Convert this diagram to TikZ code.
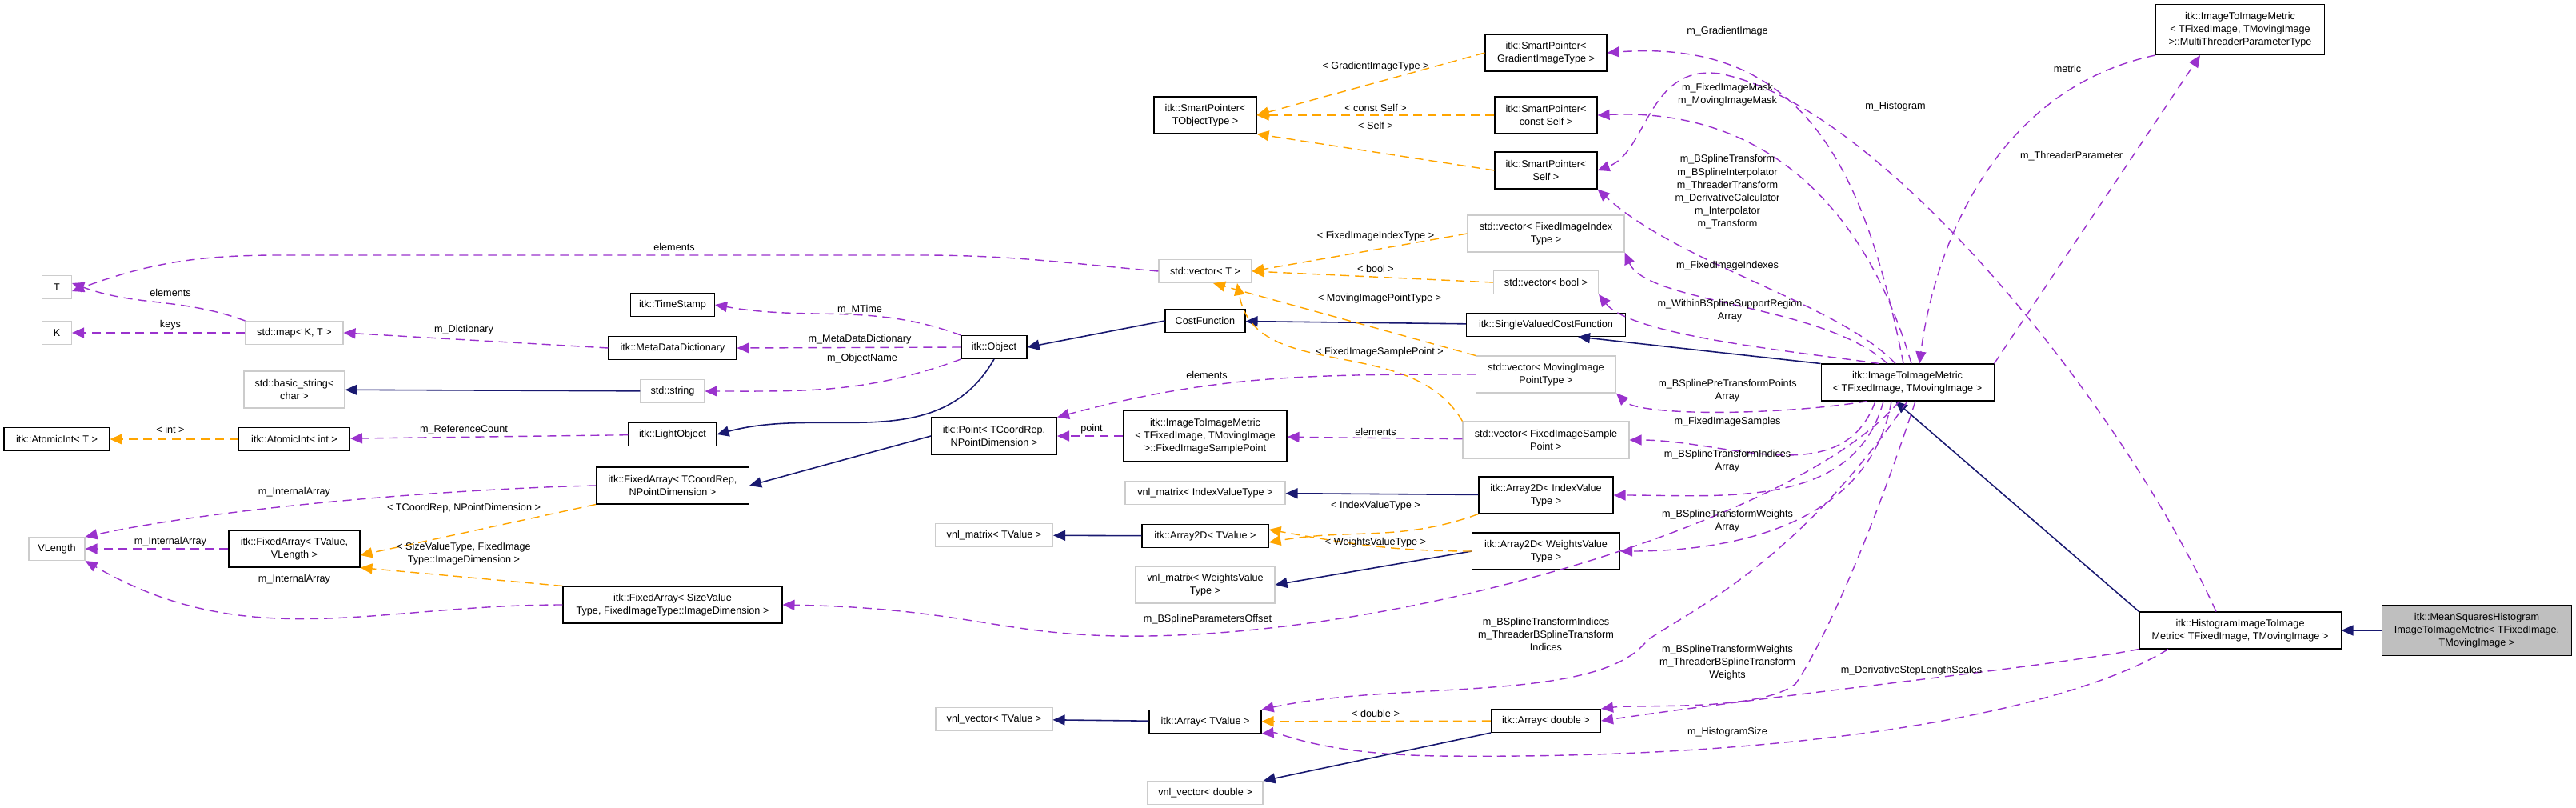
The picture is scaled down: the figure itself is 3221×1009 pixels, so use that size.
\documentclass[tikz,border=0pt]{standalone}
\usepackage{fontspec}
\setmainfont{Liberation Sans}
\usetikzlibrary{arrows.meta}
\definecolor{usecol}{HTML}{9A32CD}
\definecolor{tmplcol}{HTML}{FFA500}
\definecolor{inhcol}{HTML}{191970}
\newcommand{\fs}{\fontsize{3.6pt}{4.6pt}\selectfont}
\tikzset{
  cls/.style={draw=black, fill=white, font=\fs, align=center, inner sep=0.5pt, line width=0.3pt, minimum height=2.9mm},
  two/.style={minimum height=4.6mm},
  three/.style={minimum height=6.3mm},
  ext/.style={cls, draw=gray!40},
  use/.style={draw=usecol, line width=0.4pt, dash pattern=on 1.1mm off 0.7mm, -{Triangle[length=1.5mm,width=1.3mm]}},
  tmpl/.style={use, draw=tmplcol},
  inh/.style={draw=inhcol, line width=0.45pt, -{Triangle[length=1.5mm,width=1.3mm]}},
  lbl/.style={font=\fs, align=center, inner sep=0pt}
}
\begin{document}
\begin{tikzpicture}[x=0.1mm,y=-0.1mm]
  \useasboundingbox (0,0) rectangle (3221,1009);

  % Left columns
  \node[ext, minimum width=3.7mm] (T) at (71,359) {T};
  \node[ext, minimum width=3.7mm] (K) at (71,416) {K};
  \node[cls, minimum width=13.2mm] (atomT) at (71,549) {itk::AtomicInt< T >};
  \node[ext, minimum width=7mm] (vlen) at (71,686) {VLength};
  \node[ext, minimum width=12.2mm] (map) at (368,416) {std::map< K, T >};
  \node[ext, two, minimum width=12.6mm] (bstr) at (368,487) {std::basic\_string<\\char >};
  \node[cls, minimum width=13.9mm] (atomI) at (368,549) {itk::AtomicInt< int >};
  \node[cls, two, minimum width=16.4mm] (faVal) at (368,686) {itk::FixedArray< TValue,\\VLength >};

  \node[cls, minimum width=10.5mm] (stamp) at (841,381) {itk::TimeStamp};
  \node[cls, minimum width=16mm] (mdd) at (841,435) {itk::MetaDataDictionary};
  \node[ext, minimum width=8mm] (str) at (841,489) {std::string};
  \node[cls, minimum width=11mm] (light) at (841,543) {itk::LightObject};
  \node[cls, two, minimum width=19.1mm] (faCoord) at (841,607) {itk::FixedArray< TCoordRep,\\NPointDimension >};
  \node[cls, two, minimum width=27.4mm] (faSize) at (841,756) {itk::FixedArray< SizeValue\\Type, FixedImageType::ImageDimension >};

  \node[cls, minimum width=8.2mm] (obj) at (1243,434) {itk::Object};
  \node[cls, two, minimum width=15.7mm] (point) at (1243,545) {itk::Point< TCoordRep,\\NPointDimension >};
  \node[ext, minimum width=14.7mm] (vmT) at (1243,669) {vnl\_matrix< TValue >};
  \node[ext, minimum width=14.6mm] (vvT) at (1243,899) {vnl\_vector< TValue >};

  % Middle columns
  \node[cls, two, minimum width=12.8mm] (spObj) at (1507,144) {itk::SmartPointer<\\TObjectType >};
  \node[ext, minimum width=11.6mm] (vecT) at (1507,339) {std::vector< T >};
  \node[cls, minimum width=10mm] (cost) at (1507,401) {CostFunction};
  \node[cls, three, minimum width=20.4mm] (fisp) at (1507,545) {itk::ImageToImageMetric\\< TFixedImage, TMovingImage\\>::FixedImageSamplePoint};
  \node[ext, minimum width=20mm] (vmIdx) at (1507,616) {vnl\_matrix< IndexValueType >};
  \node[cls, minimum width=15.8mm] (a2dT) at (1507,670) {itk::Array2D< TValue >};
  \node[ext, two, minimum width=17.4mm] (vmW) at (1507,731) {vnl\_matrix< WeightsValue\\Type >};
  \node[cls, minimum width=14mm] (arrT) at (1507,902) {itk::Array< TValue >};
  \node[ext, minimum width=14.4mm] (vvD) at (1507,991) {vnl\_vector< double >};

  \node[cls, two, minimum width=15.2mm] (spGrad) at (1933,66) {itk::SmartPointer<\\GradientImageType >};
  \node[cls, two, minimum width=12.8mm] (spConst) at (1933,144) {itk::SmartPointer<\\const Self >};
  \node[cls, two, minimum width=12.8mm] (spSelf) at (1933,213) {itk::SmartPointer<\\Self >};
  \node[ext, two, minimum width=19.6mm] (vecFII) at (1933,292) {std::vector< FixedImageIndex\\Type >};
  \node[ext, minimum width=13.1mm] (vecBool) at (1933,353) {std::vector< bool >};
  \node[cls, minimum width=19.9mm] (svcf) at (1933,406) {itk::SingleValuedCostFunction};
  \node[ext, two, minimum width=17.5mm] (vecMIP) at (1933,468) {std::vector< MovingImage\\PointType >};
  \node[ext, two, minimum width=20.8mm] (vecFIS) at (1933,550) {std::vector< FixedImageSample\\Point >};
  \node[cls, two, minimum width=16.8mm] (a2dIdx) at (1933,619) {itk::Array2D< IndexValue\\Type >};
  \node[cls, two, minimum width=18.5mm] (a2dW) at (1933,689) {itk::Array2D< WeightsValue\\Type >};
  \node[cls, minimum width=13.7mm] (arrD) at (1933,901) {itk::Array< double >};

  % Right side
  \node[cls, two, minimum width=21.6mm] (main) at (2385,478) {itk::ImageToImageMetric\\< TFixedImage, TMovingImage >};
  \node[cls, three, minimum width=21.1mm] (mtpt) at (2801,37) {itk::ImageToImageMetric\\< TFixedImage, TMovingImage\\>::MultiThreaderParameterType};
  \node[cls, two, minimum width=25.2mm] (hist) at (2801,788) {itk::HistogramImageToImage\\Metric< TFixedImage, TMovingImage >};
  \node[cls, three, fill=gray!50, minimum width=23.7mm] (msq) at (3097,788) {itk::MeanSquaresHistogram\\ImageToImageMetric< TFixedImage,\\TMovingImage >};

  % Inheritance
  \draw[inh] (msq) -- (hist);
  \draw[inh] (hist.north west) -- ([xshift=-1.5mm]main.south);
  \draw[inh] (main.north west) -- ([xshift=4mm]svcf.south);
  \draw[inh] (svcf) -- (cost);
  \draw[inh] (cost.west) -- (obj.east);
  \draw[inh] (obj.south) to[out=240,in=15] (light.east);
  \draw[inh] (str) -- (bstr);
  \draw[inh] (point.west) -- (faCoord.east);
  \draw[inh] (a2dIdx) -- (vmIdx);
  \draw[inh] (a2dT) -- (vmT);
  \draw[inh] (a2dW.west) -- (vmW.east);
  \draw[inh] (arrT) -- (vvT);
  \draw[inh] (arrD.south west) -- (vvD.north east);

  % Template instances
  \draw[tmpl] (spGrad.west) -- (spObj.east);
  \draw[tmpl] (spConst) -- (spObj);
  \draw[tmpl] (spSelf.west) -- (spObj.south east);
  \draw[tmpl] (vecFII.west) -- (vecT.east);
  \draw[tmpl] (vecBool.west) -- (vecT.east);
  \draw[tmpl] (vecMIP.north west) -- ([xshift=1mm]vecT.south);
  \draw[tmpl] (vecFIS.north west) to[out=120,in=-80] ([xshift=4mm]vecT.south);
  \draw[tmpl] (atomI) -- (atomT);
  \draw[tmpl] (faCoord.south west) -- ([yshift=-0.8mm]faVal.east);
  \draw[tmpl] (faSize.north west) -- (faVal.south east);
  \draw[tmpl] (a2dIdx.south west) to[out=200,in=10] ([yshift=-0.8mm]a2dT.east);
  \draw[tmpl] (a2dW.west) to[out=180,in=-10] ([yshift=0.8mm]a2dT.east);
  \draw[tmpl] (arrD) -- (arrT);
  \node[lbl] (lGradT) at (1720,83) {< GradientImageType >};
  \node[lbl] (lConstT) at (1720,135) {< const Self >};
  \node[lbl] (lSelfT) at (1720,157) {< Self >};
  \node[lbl] (lFIIT) at (1720,295) {< FixedImageIndexType >};
  \node[lbl] (lBoolT) at (1720,336) {< bool >};
  \node[lbl] (lMIPT) at (1725,373) {< MovingImagePointType >};
  \node[lbl] (lFIST) at (1725,440) {< FixedImageSamplePoint >};
  \node[lbl] (lIntT) at (213,537) {< int >};
  \node[lbl] (lCoordT) at (580,635) {< TCoordRep, NPointDimension >};
  \node[lbl] (lSizeT) at (580,692) {< SizeValueType, FixedImage\\Type::ImageDimension >};
  \node[lbl] (lIdxT) at (1720,632) {< IndexValueType >};
  \node[lbl] (lWT) at (1720,678) {< WeightsValueType >};
  \node[lbl] (lDblT) at (1720,892) {< double >};

  % Usage, left part
  \draw[use] (vecT.west) to[out=175,in=0] (1150,319) -- (350,319) to[out=180,in=20] ([yshift=-0.5mm]T.east);
  \draw[use] (map.north west) to[out=160,in=-20] ([yshift=0.5mm]T.east);
  \draw[use] (map) -- (K);
  \draw[use] (mdd.west) -- (map.east);
  \draw[use] (obj.north west) to[out=160,in=-10] (stamp.east);
  \draw[use] (obj.west) -- (mdd.east);
  \draw[use] (obj.south west) to[out=200,in=0] (str.east);
  \draw[use] (light) -- (atomI);
  \draw[use] (faCoord.west) .. controls (600,610) and (300,630) .. (vlen.north east);
  \draw[use] (faVal) -- (vlen);
  \draw[use] (faSize.west) to[out=180,in=-30] (vlen.south east);
  \draw[use] (vecMIP.west) to[out=180,in=15] (point.north east);
  \draw[use] (fisp) -- (point);
  \draw[use] (vecFIS) -- (fisp);
  \node[lbl] (lElT) at (843,309) {elements};
  \node[lbl] (lElM) at (213,366) {elements};
  \node[lbl] (lKeys) at (213,406) {keys};
  \node[lbl] (lDict) at (580,412) {m\_Dictionary};
  \node[lbl] (lTime) at (1075,387) {m\_MTime};
  \node[lbl] (lMdd) at (1075,424) {m\_MetaDataDictionary};
  \node[lbl] (lName) at (1078,448) {m\_ObjectName};
  \node[lbl] (lRef) at (580,537) {m\_ReferenceCount};
  \node[lbl] (lIA1) at (368,615) {m\_InternalArray};
  \node[lbl] (lIA2) at (213,677) {m\_InternalArray};
  \node[lbl] (lIA3) at (368,724) {m\_InternalArray};
  \node[lbl] (lElP) at (1509,469) {elements};
  \node[lbl] (lPoint) at (1365,536) {point};
  \node[lbl] (lElS) at (1720,540) {elements};

  % Usage, from the metric
  \draw[use] ([xshift=-0.5mm]main.north) .. controls (2330,200) and (2250,48) .. (spGrad.east);
  \draw[use] ([xshift=0.5mm]main.north) .. controls (2330,250) and (2200,135) .. (spConst.east);
  \draw[use] ([xshift=-1.5mm]main.north) .. controls (2300,380) and (2100,330) .. (spSelf.south east);
  \draw[use] ([xshift=-2.5mm]main.north) .. controls (2280,380) and (2060,380) .. (vecFII.south east);
  \draw[use] ([xshift=-3.5mm]main.north) .. controls (2250,440) and (2040,420) .. (vecBool.south east);
  \draw[use] ([xshift=-5mm]main.south) .. controls (2220,520) and (2050,520) .. (vecMIP.south east);
  \draw[use] ([xshift=-4mm]main.south) to[out=250,in=0] (vecFIS.east);
  \draw[use] ([xshift=-3mm]main.south) to[out=255,in=0] (a2dIdx.east);
  \draw[use] ([xshift=-2mm]main.south) to[out=260,in=0] (a2dW.east);
  \draw[use] ([xshift=-1mm]main.south) .. controls (2250,650) and (1750,800) .. (1400,795) .. controls (1250,793) and (1200,760) .. (faSize.east);
  \draw[use] ([xshift=0mm]main.south) .. controls (2250,700) and (2120,760) .. (2060,800) .. controls (2000,880) and (1750,850) .. (arrT.north east);
  \draw[use] ([xshift=1mm]main.south) .. controls (2330,700) and (2270,820) .. (2245,855) .. controls (2200,890) and (2050,880) .. (arrD.north east);
  \draw[use] (hist.south west) .. controls (2550,835) and (2250,865) .. (arrD.east);
  \draw[use] ([xshift=-9mm]hist.south) .. controls (2600,880) and (2300,950) .. (1800,945) .. controls (1650,943) and (1600,915) .. (arrT.south east);
  \draw[use] ([xshift=-3mm]hist.north) .. controls (2650,500) and (2350,130) .. (2150,92) .. controls (2060,80) and (2060,190) .. (spSelf.east);
  \draw[use] (main.north east) -- ([xshift=-5mm]mtpt.south);
  \draw[use] (mtpt.south west) .. controls (2500,110) and (2420,300) .. ([xshift=1.5mm]main.north);
  \node[lbl] (lGrad) at (2160,39) {m\_GradientImage};
  \node[lbl] (lMask) at (2160,118) {m\_FixedImageMask\\m\_MovingImageMask};
  \node[lbl] (lSelf) at (2160,240) {m\_BSplineTransform\\m\_BSplineInterpolator\\m\_ThreaderTransform\\m\_DerivativeCalculator\\m\_Interpolator\\m\_Transform};
  \node[lbl] (lFII) at (2160,332) {m\_FixedImageIndexes};
  \node[lbl] (lBool) at (2163,388) {m\_WithinBSplineSupportRegion\\Array};
  \node[lbl] (lMIP) at (2160,488) {m\_BSplinePreTransformPoints\\Array};
  \node[lbl] (lFIS) at (2160,527) {m\_FixedImageSamples};
  \node[lbl] (lIdx) at (2160,576) {m\_BSplineTransformIndices\\Array};
  \node[lbl] (lW) at (2160,651) {m\_BSplineTransformWeights\\Array};
  \node[lbl] (lOff) at (1510,774) {m\_BSplineParametersOffset};
  \node[lbl] (lIdxA) at (1933,793) {m\_BSplineTransformIndices\\m\_ThreaderBSplineTransform\\Indices};
  \node[lbl] (lWA) at (2160,828) {m\_BSplineTransformWeights\\m\_ThreaderBSplineTransform\\Weights};
  \node[lbl] (lScales) at (2390,838) {m\_DerivativeStepLengthScales};
  \node[lbl] (lHSize) at (2160,915) {m\_HistogramSize};
  \node[lbl] (lHist) at (2370,133) {m\_Histogram};
  \node[lbl] (lThr) at (2590,195) {m\_ThreaderParameter};
  \node[lbl] (lMetric) at (2585,86) {metric};
\end{tikzpicture}
\end{document}
